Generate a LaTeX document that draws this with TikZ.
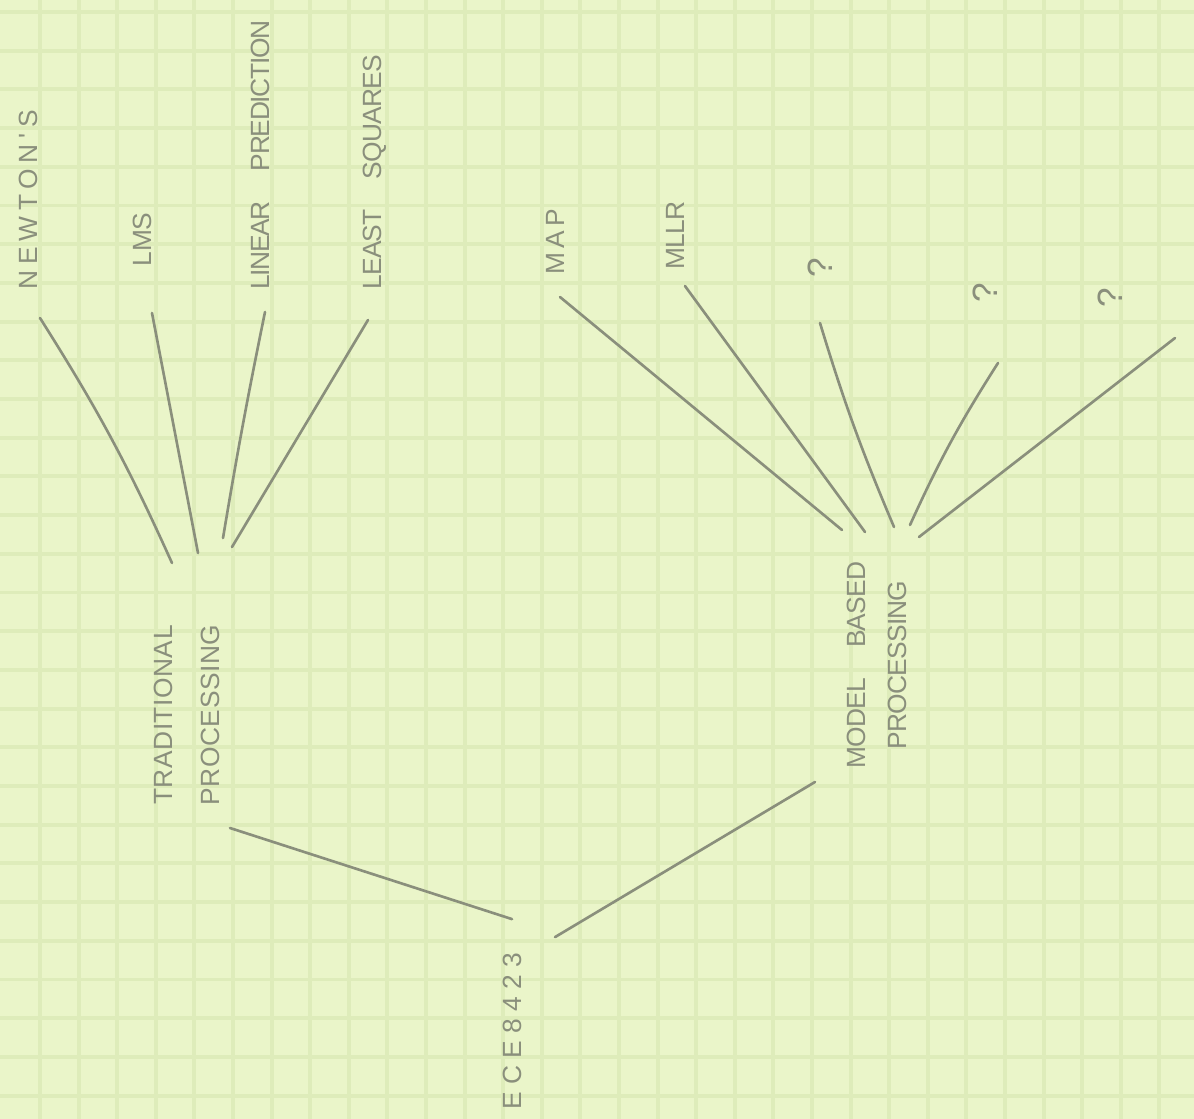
\documentclass[tikz,border=0pt]{standalone}
\usepackage{fontspec}
\usepackage{xcolor}
\newfontfamily\handfont{Liberation Sans}
\definecolor{paper}{HTML}{EAF5C9}
\definecolor{gridline}{HTML}{DEECBA}
\definecolor{pencil}{HTML}{8A8F7C}
\newcommand{\wordgap}{\hspace{0.6cm}}

\begin{document}
\begin{tikzpicture}[x=0.02cm,y=-0.02cm,
  pencil/.style={draw=pencil,line width=1.5pt,line cap=round},
  lettering/.style={rotate=90,text=pencil,inner sep=0pt,
    font={\fontsize{15}{18}\handfont\addfontfeature{LetterSpace=#1}\selectfont}},
  lettering/.default=0,
  query/.style={lettering,font={\fontsize{20}{24}\handfont\selectfont}}]
  \useasboundingbox (0,0) rectangle (1194,1119);
  \fill[paper] (0,0) rectangle (1194,1119);
  \foreach \k in {0,...,30} {
    \draw[gridline,line width=2.2pt] (40+38.6*\k,0) -- (40+38.6*\k,1119);
  }
  \foreach \k in {0,...,28} {
    \draw[gridline,line width=2.2pt] (0,12+38.7*\k) -- (1194,12+38.7*\k);
  }
  \node[lettering=22,anchor=west] (newton) at (28,290) {NEWTON'S};
  \node[lettering,anchor=west] (lms) at (142,267) {LMS};
  \node[lettering=-5,anchor=west] (linear) at (260,290) {LINEAR\wordgap PREDICTION};
  \node[lettering=-3,anchor=west] (least) at (375,290) {LEAST\wordgap SQUARES};
  \node[lettering=16,anchor=west] (map) at (555,275) {MAP};
  \node[lettering=-3,anchor=west] (mllr) at (675,270) {MLLR};
  \node[query,anchor=west] (qa) at (820,278) {?};
  \node[query,anchor=west] (qb) at (985,303) {?};
  \node[query,anchor=west] (qc) at (1110,308) {?};
  \node[lettering=2,align=center] (trad) at (187,715) {TRADITIONAL\\[9pt]PROCESSING};
  \node[lettering=-3,align=center] (model) at (877,665) {MODEL\wordgap BASED\\[5pt]PROCESSING};
  \node[lettering=28,anchor=west] (ece) at (512,1110) {ECE8423};
  \draw[pencil] ([shift={(12,28)}]newton.west) to[bend left=4] ([shift={(-15,-152)}]trad.center);
  \draw[pencil] ([shift={(10,46)}]lms.west) to ([shift={(11,-162)}]trad.center);
  \draw[pencil] ([shift={(5,22)}]linear.west) to[bend right=1] ([shift={(36,-177)}]trad.center);
  \draw[pencil] ([shift={(-7,30)}]least.west) to ([shift={(45,-168)}]trad.center);
  \draw[pencil] ([shift={(5,22)}]map.west) to ([shift={(-35,-135)}]model.center);
  \draw[pencil] ([shift={(10,16)}]mllr.west) to ([shift={(-12,-133)}]model.center);
  \draw[pencil] ([shift={(0,45)}]qa.west) to[bend right=3] ([shift={(17,-138)}]model.center);
  \draw[pencil] ([shift={(13,60)}]qb.west) to[bend right=4] ([shift={(33,-140)}]model.center);
  \draw[pencil] ([shift={(65,30)}]qc.west) to ([shift={(42,-128)}]model.center);
  \draw[pencil] ([shift={(0,-112)}]ece.center) to ([shift={(43,113)}]trad.center);
  \draw[pencil] ([shift={(43,-94)}]ece.center) to ([shift={(-62,117)}]model.center);
\end{tikzpicture}
\end{document}
